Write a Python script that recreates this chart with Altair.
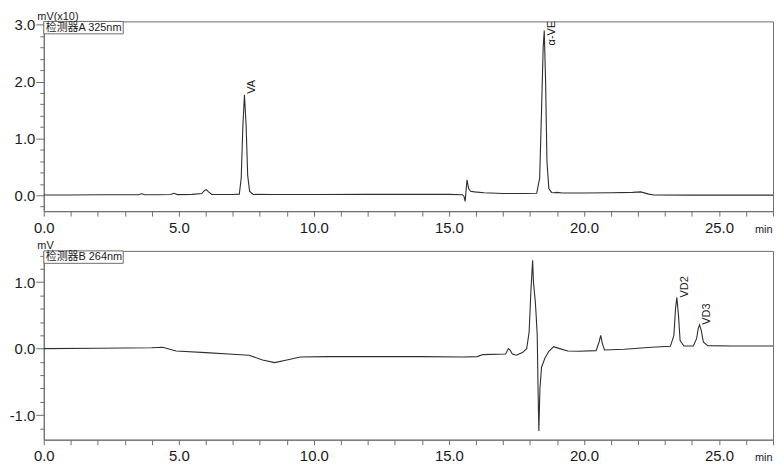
import altair as alt
import pandas as pd

# ---------------- data ----------------
# Detector A 325 nm, signal in mV (x10)
time_a = [0.0, 1.0, 2.0, 3.0, 3.5, 3.62, 3.75, 4.2, 4.7, 4.82, 4.95, 5.5, 5.85, 5.95, 6.02,
          6.1, 6.22, 7.0, 7.24, 7.31, 7.37, 7.43, 7.49, 7.55, 7.62, 7.75, 8.5, 10.0, 12.0,
          14.0, 15.0, 15.5, 15.56, 15.6, 15.67, 15.73, 15.8, 15.95, 16.3, 17.0, 17.8, 18.25,
          18.36, 18.43, 18.49, 18.53, 18.58, 18.63, 18.7, 18.8, 18.9, 18.98, 19.2, 20.0,
          21.0, 21.8, 22.1, 22.4, 22.6, 24.0, 26.0, 27.0]
signal_a = [0.005, 0.005, 0.008, 0.01, 0.01, 0.025, 0.01, 0.01, 0.012, 0.035, 0.012, 0.015,
            0.03, 0.085, 0.1, 0.06, 0.015, 0.012, 0.02, 0.3, 1.2, 1.77, 1.25, 0.35, 0.07,
            0.015, 0.012, 0.012, 0.015, 0.015, 0.015, 0.01, -0.02, -0.11, 0.27, 0.12, 0.07,
            0.06, 0.045, 0.03, 0.03, 0.035, 0.3, 1.5, 2.6, 2.9, 2.0, 0.6, 0.12, 0.05, 0.045,
            0.05, 0.04, 0.04, 0.045, 0.05, 0.06, 0.02, 0.005, 0.003, 0.002, 0.002]

# Detector B 264 nm, signal in mV
time_b = [0.0, 2.0, 4.0, 4.4, 4.9, 6.0, 7.0, 7.6, 8.1, 8.55, 9.0, 9.5, 10.5, 12.0, 14.0,
          15.5, 16.05, 16.25, 17.1, 17.2, 17.26, 17.35, 17.5, 17.72, 17.88, 17.97, 18.04,
          18.1, 18.13, 18.16, 18.2, 18.23, 18.27, 18.3, 18.33, 18.37, 18.43, 18.55, 18.7,
          18.88, 19.1, 19.4, 19.8, 20.45, 20.56, 20.62, 20.68, 20.76, 21.5, 22.5, 23.2,
          23.33, 23.39, 23.44, 23.5, 23.56, 23.7, 24.05, 24.17, 24.23, 24.28, 24.34, 24.42,
          24.58, 25.5, 27.0]
signal_b = [0.0, 0.005, 0.012, 0.02, -0.035, -0.06, -0.085, -0.1, -0.17, -0.21, -0.17,
            -0.125, -0.12, -0.12, -0.12, -0.125, -0.12, -0.09, -0.08, 0.0, -0.02, -0.08,
            -0.1, -0.06, 0.0, 0.25, 0.9, 1.33, 1.0, 0.87, 0.7, 0.5, 0.2, -0.6, -1.24, -0.6,
            -0.28, -0.15, -0.04, 0.03, 0.0, -0.035, -0.04, -0.03, 0.1, 0.2, 0.08, -0.02,
            -0.01, 0.02, 0.035, 0.2, 0.6, 0.77, 0.5, 0.12, 0.04, 0.04, 0.15, 0.3, 0.36, 0.28,
            0.1, 0.045, 0.04, 0.04]

peak_names_a = ["VA", "α-VE"]
peak_times_a = [7.43, 18.53]
peak_heights_a = [1.77, 2.9]
peak_names_b = ["VD2", "VD3"]
peak_times_b = [23.44, 24.28]
peak_heights_b = [0.77, 0.36]

x_ticks = [0, 1, 2, 3, 4, 5, 6, 7, 8, 9, 10, 11, 12, 13, 14, 15, 16, 17, 18, 19, 20, 21,
           22, 23, 24, 25, 26, 27]
y_ticks_a = [-0.2, 0.0, 0.2, 0.4, 0.6, 0.8, 1.0, 1.2, 1.4, 1.6, 1.8, 2.0, 2.2, 2.4, 2.6,
             2.8, 3.0]
y_ticks_b = [-1.2, -1.0, -0.8, -0.6, -0.4, -0.2, 0.0, 0.2, 0.4, 0.6, 0.8, 1.0, 1.2, 1.4]
x_domain = [0, 27]
y_domain_a = [-0.28, 3.06]
y_domain_b = [-1.37, 1.47]

assert len(time_a) == len(signal_a)
assert len(time_b) == len(signal_b)

# ---------------- styling ----------------
W = 734
AXIS_COLOR = "#6e6e6e"
TEXT_COLOR = "#1a1a1a"
LINE_COLOR = "#2e2e2e"
FONT = "Liberation Sans"
BOX_FONT = "Liberation Sans, Noto Sans CJK SC"

minor_test = "abs(datum.value - round(datum.value)) > 0.001"
y_label_expr = ("abs(datum.value - round(datum.value)) < 0.001 ? "
                "(datum.value < 0 ? '-' : '') + format(abs(datum.value), '.1f') : ''")
x_label_expr = "datum.value % 5 === 0 ? format(datum.value, '.1f') : ''"


def x_axis():
    return alt.Axis(values=x_ticks, tickCount=100, labelExpr=x_label_expr, labelFlush=False,
                    labelOverlap=False, tickSize=5, labelPadding=4, labelFontSize=15,
                    labelFont=FONT, labelColor=TEXT_COLOR, domainColor=AXIS_COLOR,
                    tickColor=AXIS_COLOR, grid=False, title="min", titleX=W - 1,
                    titleY=21, titleAlign="right", titleBaseline="alphabetic",
                    titleFontSize=11, titleFont=FONT, titleFontWeight="normal",
                    titleColor=TEXT_COLOR)


def y_axis(values, title):
    return alt.Axis(values=values, tickCount=100, labelExpr=y_label_expr,
                    labelOverlap=False,
                    tickSize={"condition": {"test": minor_test, "value": 4}, "value": 8},
                    labelPadding=1, labelFontSize=15, labelFont=FONT,
                    labelColor=TEXT_COLOR, domainColor=AXIS_COLOR, tickColor=AXIS_COLOR,
                    grid=False, minExtent=35, maxExtent=35, title=title, titleAngle=0,
                    titleX=-7, titleY=-2, titleAlign="left", titleBaseline="alphabetic",
                    titleFontSize=11, titleFont=FONT, titleFontWeight="normal",
                    titleColor=TEXT_COLOR)


def panel(times, signal, y_domain, y_ticks, y_title, det_label, names, ptimes, pheights,
          label_shift, height):
    df = pd.DataFrame({"t": times, "v": signal})
    xs = alt.Scale(domain=x_domain, nice=False, zero=False)
    ys = alt.Scale(domain=y_domain, nice=False, zero=False)
    line = alt.Chart(df).mark_line(color=LINE_COLOR, strokeWidth=1.1).encode(
        x=alt.X("t:Q", scale=xs, axis=x_axis()),
        y=alt.Y("v:Q", scale=ys, axis=y_axis(y_ticks, y_title)),
    )
    layers = [line]
    for name, pt, ph, sh in zip(names, ptimes, pheights, label_shift):
        pdf = pd.DataFrame({"t": [pt], "v": [ph], "name": [name]})
        layers.append(
            alt.Chart(pdf).mark_text(angle=270, align="left", baseline="top", dx=sh,
                                     dy=2, fontSize=11, font=FONT, color=TEXT_COLOR)
            .encode(x=alt.X("t:Q", scale=xs), y=alt.Y("v:Q", scale=ys), text="name:N")
        )
    box = alt.Chart(alt.Data(values=[{"label": det_label}])).mark_rect(
        fill="white", stroke=AXIS_COLOR, strokeWidth=1).encode(
        x=alt.value(0), x2=alt.value(80), y=alt.value(0), y2=alt.value(12.5))
    box_text = alt.Chart(alt.Data(values=[{"label": det_label}])).mark_text(
        align="left", baseline="middle", fontSize=11, font=BOX_FONT,
        color=TEXT_COLOR).encode(x=alt.value(2), y=alt.value(6.5), text="label:N")
    layers += [box, box_text]
    return alt.layer(*layers).properties(width=W, height=height)


top = panel(time_a, signal_a, y_domain_a, y_ticks_a, "mV(x10)", "检测器A 325nm",
            peak_names_a, peak_times_a, peak_heights_a, [1, -15], 191)
bottom = panel(time_b, signal_b, y_domain_b, y_ticks_b, "mV", "检测器B 264nm",
               peak_names_b, peak_times_b, peak_heights_b, [0, 0], 190)

chart = alt.vconcat(top, bottom, spacing=3).properties(
    padding=0, background="white"
).configure_view(stroke=AXIS_COLOR, strokeWidth=1)

chart.save("out.html", embed_options={"renderer": "svg", "actions": False})
